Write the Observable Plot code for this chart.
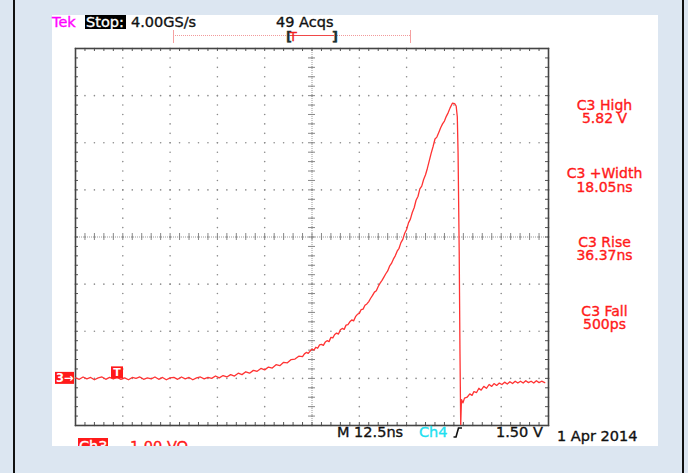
<!DOCTYPE html>
<html><head><meta charset="utf-8">
<script src="https://cdn.jsdelivr.net/npm/d3@7"></script>
<script src="https://cdn.jsdelivr.net/npm/@observablehq/plot@0.6"></script>
<style>
html,body{margin:0;padding:0;background:#dce6f1;}
#root{position:relative;width:688px;height:473px;overflow:hidden;background:#dce6f1;}
.vline{position:absolute;top:0;width:2px;height:473px;background:#111;}
#panel{position:absolute;left:52px;top:15px;width:606px;height:431px;background:#fff;}
#root svg{position:absolute;left:0;top:0;}
</style></head><body>
<div id="root"><div class="vline" style="left:13px"></div><div class="vline" style="left:682px"></div><div id="panel"></div></div>
<script>
// Channel 3 waveform: time (ns from left edge of screen, 12.5 ns/div) and volts (1.00 V/div, ground = 0)
const timeNs = [0,1,2,3,4,5,6,7,8,9,10,11,12,13,14,15,16,17,18,19,20,21,22,23,24,25,26,27,28,29,30,31,32,33,34,35,36,37,38,39,40,41,42,43,44,45,46,47,48,49,50,51,52,53,54,55,56,57,58,59,
  60,60.5,61,61.5,62,62.5,63,63.5,64,64.5,65,65.5,66,66.5,67,67.5,68,68.5,69,69.5,70,70.5,71,71.5,72,72.5,73,73.5,74,74.5,75,75.5,76,76.5,77,77.5,78,78.5,79,79.5,
  80,80.5,81,81.5,82,82.5,83,83.5,84,84.5,85,85.5,86,86.5,87,87.5,88,88.5,89,89.5,90,90.5,91,91.5,92,92.5,93,93.5,94,94.5,95,95.5,96,96.5,97,97.5,98,98.5,99,
  99.6,100.2,100.6,100.9,101.1,101.4,101.6,101.8,102.0,102.4,102.8,103.5,104.2,104.8,105.3,106.0,106.6,107.2,107.9,108.6,109.3,110.0,110.6,111.3,112.0,112.7,113.4,114.1,114.8,115.5,116.2,116.9,117.6,118.3,119.0,119.7,120.4,121.1,121.8,122.5,123.2,124.0];
const volts = [0.01,-0.02,0.03,-0.01,0.02,-0.03,0.01,0.03,-0.02,0.02,-0.01,0.02,-0.02,0.01,-0.03,0.02,0.00,0.03,-0.02,0.01,-0.01,0.03,-0.02,0.02,-0.03,0.01,0.02,-0.02,0.03,-0.01,0.02,-0.03,0.01,0.03,-0.01,0.02,0.00,0.05,0.01,0.06,0.03,0.08,0.05,0.11,0.08,0.14,0.11,0.17,0.15,0.21,0.18,0.24,0.22,0.29,0.27,0.34,0.33,0.40,0.41,0.47,
  0.46,0.52,0.55,0.53,0.58,0.62,0.60,0.66,0.64,0.71,0.72,0.70,0.77,0.80,0.78,0.87,0.86,0.93,0.96,0.94,1.03,1.06,1.04,1.13,1.14,1.20,1.24,1.22,1.31,1.36,1.38,1.46,1.47,1.55,1.58,1.63,1.70,1.76,1.83,1.86,
  1.95,2.02,2.08,2.15,2.22,2.28,2.38,2.44,2.53,2.60,2.70,2.76,2.88,2.95,3.08,3.16,3.30,3.38,3.52,3.62,3.78,3.86,4.02,4.08,4.22,4.32,4.46,4.62,4.78,4.92,5.08,5.12,5.22,5.32,5.40,5.46,5.56,5.64,5.74,
  5.84,5.83,5.78,5.55,4.80,2.70,0.60,-1.00,-0.45,-0.52,-0.42,-0.40,-0.33,-0.36,-0.28,-0.30,-0.21,-0.25,-0.17,-0.21,-0.13,-0.17,-0.11,-0.15,-0.10,-0.13,-0.08,-0.12,-0.07,-0.11,-0.06,-0.10,-0.06,-0.10,-0.05,-0.09,-0.06,-0.10,-0.05,-0.09,-0.06,-0.09];

// Screen layout: 10 x 8 divisions
const xDomain = [0, 125];       // ns
const yDomain = [-1, 7];        // V (ground at 3 div below centre)
const xDiv = 12.5, yDiv = 1;
const xCenter = 62.5, yCenter = 3;
const triggerMarkNs = 11.1;

// Texts
const headerTexts = ["Tek", "Stop:", "4.00GS/s", "49 Acqs"];
const measureNames = ["C3 High", "C3 +Width", "C3 Rise", "C3 Fall"];
const measureValues = ["5.82 V", "18.05ns", "36.37ns", "500ps"];
const footerTexts = ["M 12.5ns", "Ch4", "1.50 V", "1 Apr 2014"];
const channelTexts = ["Ch3", "1.00 VΩ"];

const trace = timeNs.map((t, i) => ({t, v: volts[i]}));
const xMajor = d3.range(xDomain[0], xDomain[1] + 0.001, xDiv);
const yMajor = d3.range(yDomain[0], yDomain[1] + 0.001, yDiv);
const xMinor = d3.range(xDomain[0], xDomain[1] + 0.001, xDiv / 5);
const yMinor = d3.range(yDomain[0], yDomain[1] + 0.001, yDiv / 5);
const hDots = yMajor.flatMap(y => xMinor.map(x => ({x, y})));
const vDots = xMajor.flatMap(x => yMinor.map(y => ({x, y})));

const pxX = 473 / 125, pxY = 377 / 8;  // px per unit
const tk = 3; // tick length px

const plot = Plot.plot({
  width: 688, height: 473,
  marginLeft: 75, marginRight: 140, marginTop: 48, marginBottom: 48,
  x: {domain: xDomain, axis: null},
  y: {domain: yDomain, axis: null},
  style: {background: "transparent", overflow: "visible"},
  marks: [
    Plot.dot(hDots, {x: "x", y: "y", r: 0.8, fill: "#8a8a8a", stroke: null}),
    Plot.dot(vDots, {x: "x", y: "y", r: 0.8, fill: "#8a8a8a", stroke: null}),
    Plot.ruleY([yCenter], {x1: xDomain[0], x2: xDomain[1], stroke: "#9a9a9a", strokeDasharray: "1,1"}),
    Plot.ruleX([xCenter], {y1: yDomain[0], y2: yDomain[1], stroke: "#9a9a9a", strokeDasharray: "1,1"}),
    Plot.ruleX(xMinor, {y1: yCenter - 3.5 / pxY, y2: yCenter + 3.5 / pxY, stroke: "#888"}),
    Plot.ruleY(yMinor, {x1: xCenter - 3.5 / pxX, x2: xCenter + 3.5 / pxX, stroke: "#888"}),
    Plot.ruleX(xMinor, {y1: yDomain[0], y2: yDomain[0] + tk / pxY, stroke: "#555"}),
    Plot.ruleX(xMinor, {y1: yDomain[1] - tk / pxY, y2: yDomain[1], stroke: "#555"}),
    Plot.ruleY(yMinor, {x1: xDomain[0], x2: xDomain[0] + tk / pxX, stroke: "#555"}),
    Plot.ruleY(yMinor, {x1: xDomain[1] - tk / pxX, x2: xDomain[1], stroke: "#555"}),
    Plot.frame({stroke: "#444", strokeWidth: 1.6}),
    Plot.line(trace, {x: "t", y: "v", stroke: "#ff3333", strokeWidth: 1.3, clip: true})
  ]
});

document.getElementById("root").appendChild(plot);
const svg = d3.select(plot);
const sx = plot.scale("x"), sy = plot.scale("y");
const FONT = "DejaVu Sans, Verdana, sans-serif";
const g = svg.append("g").attr("font-family", FONT).attr("font-size", 14.5);

function txt(parent, x, y, s, fill, anchor = "start", extra = {}) {
  const t = parent.append("text").attr("x", x).attr("y", y).attr("fill", fill)
    .attr("stroke", fill).attr("stroke-width", 0.35)
    .attr("text-anchor", anchor).text(s);
  for (const k in extra) t.attr(k, extra[k]);
  return t;
}

// Header
txt(g, 52, 27, headerTexts[0], "#ff00ff");
g.append("rect").attr("x", 85).attr("y", 15).attr("width", 41).attr("height", 14).attr("fill", "#000");
txt(g, 86, 27, headerTexts[1], "#fff");
txt(g, 131, 27, headerTexts[2], "#111");
txt(g, 276, 27, headerTexts[3], "#111");

// Record view bar
g.append("line").attr("x1", 173).attr("x2", 411).attr("y1", 35.5).attr("y2", 35.5)
  .attr("stroke", "#f29a9a").attr("stroke-dasharray", "1,1");
g.append("line").attr("x1", 290).attr("x2", 334).attr("y1", 35.5).attr("y2", 35.5).attr("stroke", "#f04848");
for (const x of [173.5, 410.5]) g.append("line").attr("x1", x).attr("x2", x).attr("y1", 30).attr("y2", 43).attr("stroke", "#f5a0a0");
txt(g, 286, 41, "[", "#1a3030", "start", {"font-size": 13, "font-weight": "bold"});
txt(g, 332, 41, "]", "#1a3030", "start", {"font-size": 13, "font-weight": "bold"});
txt(g, 289.5, 41, "T", "#f02020", "start", {"font-size": 12});

// Measurements
const mY = [[110, 123], [178, 191.5], [247, 260], [316, 329]];
measureNames.forEach((n, i) => {
  txt(g, 604.5, mY[i][0], n, "#ff1a1a", "middle", {"font-size": 14});
  txt(g, 604.5, mY[i][1], measureValues[i], "#ff1a1a", "middle", {"font-size": 14});
});

// Footer
txt(g, 337, 437, footerTexts[0], "#111");
txt(g, 419, 437, footerTexts[1], "#20e0f0");
g.append("path").attr("d", "M453.5,437 L456,437 L458.5,428 L462,428").attr("fill", "none").attr("stroke", "#111").attr("stroke-width", 1.6);
txt(g, 496, 437, footerTexts[2], "#111");
txt(g, 557, 440.5, footerTexts[3], "#111");

// Ground marker "3→" and trigger mark "T"
const yg = sy.apply(0);
g.append("rect").attr("x", 55).attr("y", yg - 6).attr("width", 19).attr("height", 12).attr("fill", "#ff1a1a");
txt(g, 56, yg + 4.5, "3→", "#fff", "start", {"font-size": 11.5, "font-weight": "bold", "stroke-width": 0});
const xt = sx.apply(triggerMarkNs);
g.append("rect").attr("x", xt - 6).attr("y", yg - 11.5).attr("width", 12).attr("height", 12).attr("fill", "#ff1a1a");
txt(g, xt, yg - 1.5, "T", "#fff", "middle", {"font-size": 11, "font-weight": "bold", "stroke-width": 0});

// Clipped channel readout at the bottom
const defs = svg.append("defs");
defs.append("clipPath").attr("id", "panelclip").append("rect").attr("x", 52).attr("y", 15).attr("width", 606).attr("height", 431);
const gc = g.append("g").attr("clip-path", "url(#panelclip)");
gc.append("rect").attr("x", 78).attr("y", 438).attr("width", 30).attr("height", 15).attr("fill", "#ff1a1a");
txt(gc, 79, 451, channelTexts[0], "#fff");
txt(gc, 130, 451, channelTexts[1], "#ff1a1a");
</script>
</body></html>
